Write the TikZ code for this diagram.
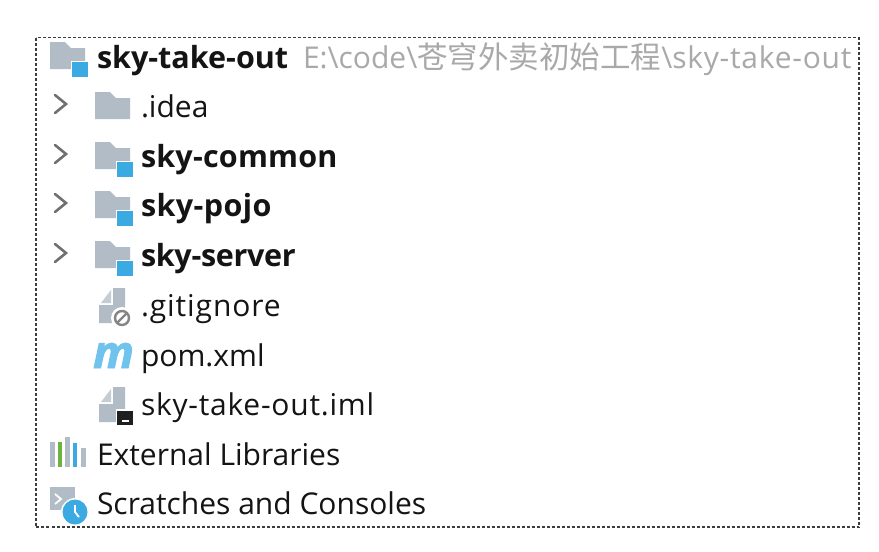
\documentclass[tikz,border=0pt]{standalone}
\usepackage{fontspec}
\setmainfont{Open Sans}
\newfontfamily\cjk{Noto Sans CJK SC}
\definecolor{iconGrey}{HTML}{B2BCC6}
\definecolor{foldGrey}{HTML}{C4CCD4}
\definecolor{iconBlue}{HTML}{3BAAE3}
\definecolor{mavenBlue}{HTML}{6FC3EC}
\definecolor{iconGreen}{HTML}{6DB33F}
\definecolor{txt}{HTML}{141414}
\definecolor{pathGrey}{HTML}{A9A9A9}
\definecolor{chev}{HTML}{707070}
\definecolor{frameC}{HTML}{3C3C3C}
\tikzset{
  x=1pt,y=-1pt,
  lbl/.style={anchor=base west,inner sep=0pt,outer sep=0pt,text=txt,font=\fontsize{30}{32}\selectfont},
  blbl/.style={lbl,font=\fontsize{30.5}{32}\selectfont\bfseries},
  pathlbl/.style={lbl,text=pathGrey},
  chevron/.style={draw=chev,line width=2.6pt,line cap=round,line join=miter},
  pics/folder/.style={code={
    \fill[iconGrey] (0,0) -- (15,0) -- (21,6) -- (35,6) -- (35,27) -- (0,27) -- cycle;
  }},
  pics/badge/.style={code={
    \fill[white] (21,19) rectangle (39,36);
    \fill[iconBlue] (22,20) rectangle (38,35);
  }},
  pics/filei/.style={code={
    \fill[iconGrey] (14,0) -- (26,0) -- (26,35) -- (0,35) -- (0,17) -- (14,17) -- cycle;
    \fill[foldGrey] (12,2) -- (12,15) -- (2,15) -- cycle;
  }},
  pics/chevr/.style={code={
    \draw[chevron] (0,0) -- (11,9) -- (0,18);
  }}
}
\begin{document}
\begin{tikzpicture}
\useasboundingbox (0,0) rectangle (879,552);
\fill[white] (0,0) rectangle (879,552);
\draw[frameC,line width=1.2pt,dash pattern=on 3pt off 2pt] (36,37.5) rectangle (859,527);

% root
\pic at (50,42) {folder}; \pic at (50,42) {badge};
\node[blbl] (root) at (97,68) {sky-take-out};
\node[pathlbl] (rootpath) at (303,68) {E:\textbackslash code\textbackslash{\cjk\fontsize{30.5}{32}\selectfont 苍穹外卖初始工程}\textbackslash{\addfontfeature{LetterSpace=2.5}sky-take-out}};

% chevrons
\pic at (55,95) {chevr};
\pic at (55,145) {chevr};
\pic at (55,194) {chevr};
\pic at (55,244) {chevr};

% modules
\pic at (95,92) {folder};
\node[lbl] (idea) at (141,117) {.idea};
\pic at (95,142) {folder}; \pic at (95,142) {badge};
\node[blbl] (common) at (141,167) {\addfontfeature{LetterSpace=0.7}sky-common};
\pic at (95,191) {folder}; \pic at (95,191) {badge};
\node[blbl] (pojo) at (141,216) {\addfontfeature{LetterSpace=1.3}sky-pojo};
\pic at (95,241) {folder}; \pic at (95,241) {badge};
\node[blbl] (server) at (141,266) {\addfontfeature{LetterSpace=-1}sky-server};

% gitignore
\pic at (99,288) {filei};
\fill[white] (122,318) circle (11);
\draw[chev!85,line width=2.4pt] (122,318) circle (7);
\draw[chev!85,line width=2.4pt] (117,323) -- (127,313);
\node[lbl] (git) at (141,316) {\addfontfeature{LetterSpace=3}.gitignore};

% pom
\node[anchor=base west,inner sep=0pt,text=mavenBlue,font=\fontsize{45}{48}\selectfont\addfontfeature{FakeBold=2}\bfseries\itshape] (m) at (93,368) {m};
\node[lbl] (pom) at (141,366) {pom.xml};

% iml
\pic at (99,387) {filei};
\fill[white] (116,409) rectangle (134,426);
\fill[black!88] (117,411) rectangle (133,425);
\fill[white] (122,420) rectangle (129,422);
\node[lbl] (iml) at (141,415) {\addfontfeature{LetterSpace=2.5}sky-take-out.iml};

% external libraries
\fill[iconGrey] (50,442) rectangle (55,467);
\fill[iconGreen] (58,442) rectangle (62,467);
\fill[iconGrey] (65,437) rectangle (70,467);
\fill[iconBlue] (73,443) rectangle (77,467);
\fill[iconGrey] (81,448) rectangle (86,467);
\node[lbl] (ext) at (97,465) {External Libraries};

% scratches
\fill[iconGrey] (50,487) rectangle (75,510);
\draw[white,line width=1.8pt] (55,494) -- (61,499) -- (55,504);
\fill[white] (75,512) circle (14);
\fill[iconBlue] (75,512) circle (12.5);
\draw[white,line width=1.8pt] (75,505) -- (75,512) -- (79,517);
\node[lbl] (scr) at (97,514) {Scratches and Consoles};
\end{tikzpicture}
\end{document}
